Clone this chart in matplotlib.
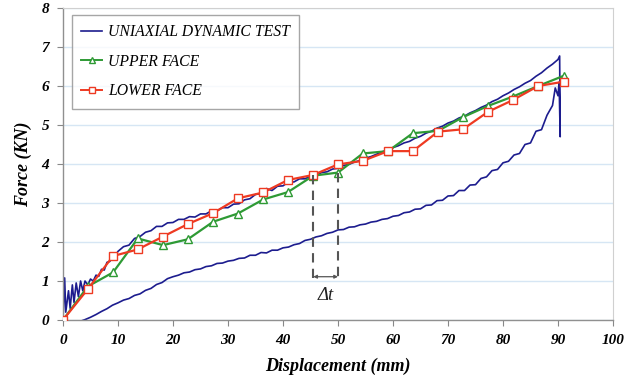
import numpy as np
import matplotlib
matplotlib.use("Agg")
import matplotlib.pyplot as plt
from matplotlib.lines import Line2D

# ---------------- data ----------------
face_x = [0, 4.5, 9.1, 13.6, 18.2, 22.7, 27.3, 31.8, 36.4, 40.9, 45.5, 50.0,
          54.5, 59.1, 63.6, 68.2, 72.7, 77.3, 81.8, 86.4, 91.0]
upper_face = [0, 0.86, 1.22, 2.09, 1.92, 2.07, 2.52, 2.73, 3.09, 3.28, 3.70, 3.78,
              4.27, 4.33, 4.79, 4.85, 5.20, 5.49, 5.73, 6.00, 6.26]
lower_face = [0, 0.79, 1.64, 1.81, 2.14, 2.46, 2.74, 3.12, 3.27, 3.59, 3.72, 3.99,
              4.08, 4.33, 4.33, 4.83, 4.89, 5.34, 5.64, 6.00, 6.11]

# loading branch of the uniaxial dynamic test
load_x = [0, 0.3, 0.5, 1.0, 1.3, 1.7, 2.0, 2.4, 2.8, 3.2, 3.6, 4.0, 4.5, 5.0, 5.5,
          6.0, 6.5, 7.0, 7.5, 8.0, 8.5, 9.0, 9.5,
          10, 11, 12, 13, 14, 15, 16, 17, 18, 19, 20, 21, 22, 23, 24, 25, 26, 27,
          28, 29, 30, 31, 32, 33, 34, 35, 36, 37, 38, 39, 40, 41, 42, 43, 44, 45,
          46, 47, 48, 49, 50, 51, 52, 53, 54, 55, 56, 57, 58, 59, 60, 61, 62, 63,
          64, 65, 66, 67, 68, 69, 70, 71, 72, 73, 74, 75, 76, 77, 78, 79, 80, 81,
          82, 83, 84, 85, 86, 87, 88, 89, 90, 90.3]
load_y = [0, 1.08, 0.20, 0.75, 0.30, 0.90, 0.45, 0.95, 0.60, 1.00, 0.75, 1.00, 0.90,
          1.05, 1.00, 1.15, 1.12, 1.30, 1.28, 1.48, 1.50, 1.62, 1.65,
          1.76, 1.88, 1.92, 2.09, 2.14, 2.25, 2.29, 2.40, 2.40, 2.49, 2.50, 2.58,
          2.58, 2.65, 2.64, 2.72, 2.72, 2.80, 2.80, 2.88, 2.88, 2.97, 2.98, 3.08,
          3.11, 3.22, 3.24, 3.37, 3.32, 3.43, 3.44, 3.54, 3.54, 3.62, 3.62, 3.69,
          3.71, 3.78, 3.80, 3.87, 3.89, 3.96, 3.99, 4.05, 4.09, 4.15, 4.19, 4.25,
          4.31, 4.36, 4.42, 4.47, 4.54, 4.58, 4.66, 4.71, 4.79, 4.84, 4.92, 4.97,
          5.05, 5.10, 5.18, 5.23, 5.31, 5.37, 5.45, 5.51, 5.60, 5.66, 5.75, 5.82,
          5.91, 5.98, 6.07, 6.14, 6.25, 6.34, 6.46, 6.56, 6.68, 6.77]

# unloading branch (listed with increasing displacement)
unload_x = [0, 1, 2, 3, 4, 5, 6, 7, 8, 9, 10, 11, 12, 13, 14, 15, 16, 17, 18, 19,
            20, 21, 22, 23, 24, 25, 26, 27, 28, 29, 30, 31, 32, 33, 34, 35, 36, 37,
            38, 39, 40, 41, 42, 43, 44, 45, 46, 47, 48, 49, 50, 51, 52, 53, 54, 55,
            56, 57, 58, 59, 60, 61, 62, 63, 64, 65, 66, 67, 68, 69, 70, 71, 72, 73,
            74, 75, 76, 77, 78, 79, 80, 81, 82, 83, 84, 85, 86, 87, 88, 89, 89.5,
            90, 90.2, 90.4]
unload_y = [0.0, -0.03, -0.06, -0.04, 0.01, 0.07, 0.14, 0.22, 0.29, 0.38, 0.44, 0.51,
            0.55, 0.63, 0.67, 0.76, 0.81, 0.91, 0.96, 1.06, 1.11, 1.15, 1.21, 1.23,
            1.29, 1.31, 1.37, 1.39, 1.45, 1.46, 1.51, 1.53, 1.58, 1.59, 1.66, 1.66,
            1.73, 1.72, 1.79, 1.79, 1.85, 1.87, 1.93, 1.96, 2.04, 2.07, 2.13, 2.16,
            2.22, 2.25, 2.31, 2.32, 2.38, 2.39, 2.44, 2.46, 2.51, 2.53, 2.58, 2.60,
            2.66, 2.68, 2.75, 2.77, 2.84, 2.85, 2.94, 2.95, 3.06, 3.07, 3.18, 3.19,
            3.32, 3.32, 3.46, 3.47, 3.63, 3.67, 3.83, 3.86, 4.03, 4.07, 4.23, 4.27,
            4.50, 4.54, 4.84, 4.88, 5.25, 5.50, 5.95, 5.75, 6.10, 4.70]

x_ticks = [0, 10, 20, 30, 40, 50, 60, 70, 80, 90, 100]
y_ticks = [0, 1, 2, 3, 4, 5, 6, 7, 8]
dt_start, dt_end = 45.5, 50.0

# ---------------- figure ----------------
serif = ["Liberation Serif", "DejaVu Serif"]
fig = plt.figure(figsize=(6.39, 3.84), dpi=100)
ax = fig.add_axes([63 / 639, 64 / 384, 550 / 639, 312 / 384])

blue = "#1c1c8e"
green = "#2e9a34"
red = "#ee3a22"

test_x = np.concatenate([load_x, np.array(unload_x)[::-1]])
test_y = np.concatenate([load_y, np.array(unload_y)[::-1]])
ax.plot(test_x, test_y, color=blue, lw=1.2, zorder=2)

ax.plot(face_x, upper_face, color=green, lw=1.6, marker="^", ms=6,
        mfc="white", mec=green, mew=1.0, zorder=3)
ax.plot(face_x, lower_face, color=red, lw=1.6, marker="s", ms=6,
        mfc="white", mec=red, mew=1.0, zorder=3)

# delta t annotation
for xv, ytop in [(dt_start, 3.72), (dt_end, 3.78)]:
    ax.plot([xv, xv], [ytop, 1.07], color="#555555", lw=1.5, ls=(0, (4.5, 3)), zorder=4)
ax.annotate("", xy=(dt_start, 1.11), xytext=(dt_end, 1.11),
            arrowprops=dict(arrowstyle="<|-|>", color="#555555", lw=0.9,
                            mutation_scale=5, shrinkA=0, shrinkB=0), zorder=4)
ax.text((dt_start + dt_end) / 2, 0.62, "Δt", ha="center", va="center",
        fontsize=13.5, style="italic", family=serif, color="#222222")

ax.set_xlim(0, 100)
ax.set_ylim(0, 8)
ax.set_xticks(x_ticks)
ax.set_yticks(y_ticks)
ax.set_xticklabels([str(v) for v in x_ticks], family=serif, style="italic",
                   weight="bold", fontsize=11)
ax.set_yticklabels([str(v) for v in y_ticks], family=serif, style="italic",
                   weight="bold", fontsize=11)
ax.tick_params(axis="both", direction="out", length=4, width=0.8, color="#888888",
               pad=6)
ax.grid(axis="y", color="#d6e6f4", lw=1.0, zorder=0)
ax.set_axisbelow(True)
for side in ["top", "right"]:
    ax.spines[side].set_color("#d0d0d0")
for side in ["left", "bottom"]:
    ax.spines[side].set_color("#909090")
    ax.spines[side].set_linewidth(1.0)

ax.set_xlabel("Displacement (mm)", family=serif, style="italic", weight="bold",
              fontsize=13, labelpad=8)
ax.set_ylabel("Force (KN)", family=serif, style="italic", weight="bold",
              fontsize=13, labelpad=7)

handles = [Line2D([], [], color=blue, lw=1.2),
           Line2D([], [], color=green, lw=1.4, marker="^", ms=5, mfc="white", mec=green),
           Line2D([], [], color=red, lw=1.4, marker="s", ms=5, mfc="white", mec=red)]
leg = ax.legend(handles, ["UNIAXIAL DYNAMIC TEST", "UPPER FACE", "LOWER FACE"],
                loc="upper left", bbox_to_anchor=(9 / 550, 1 - 7 / 312),
                prop=dict(family=serif, style="italic", size=11.3),
                frameon=True, fancybox=False, edgecolor="#909090",
                handlelength=1.3, handletextpad=0.4, labelspacing=0.85,
                borderpad=0.6, borderaxespad=0)
leg.get_frame().set_linewidth(1.0)

fig.savefig("out.png", dpi=100)
